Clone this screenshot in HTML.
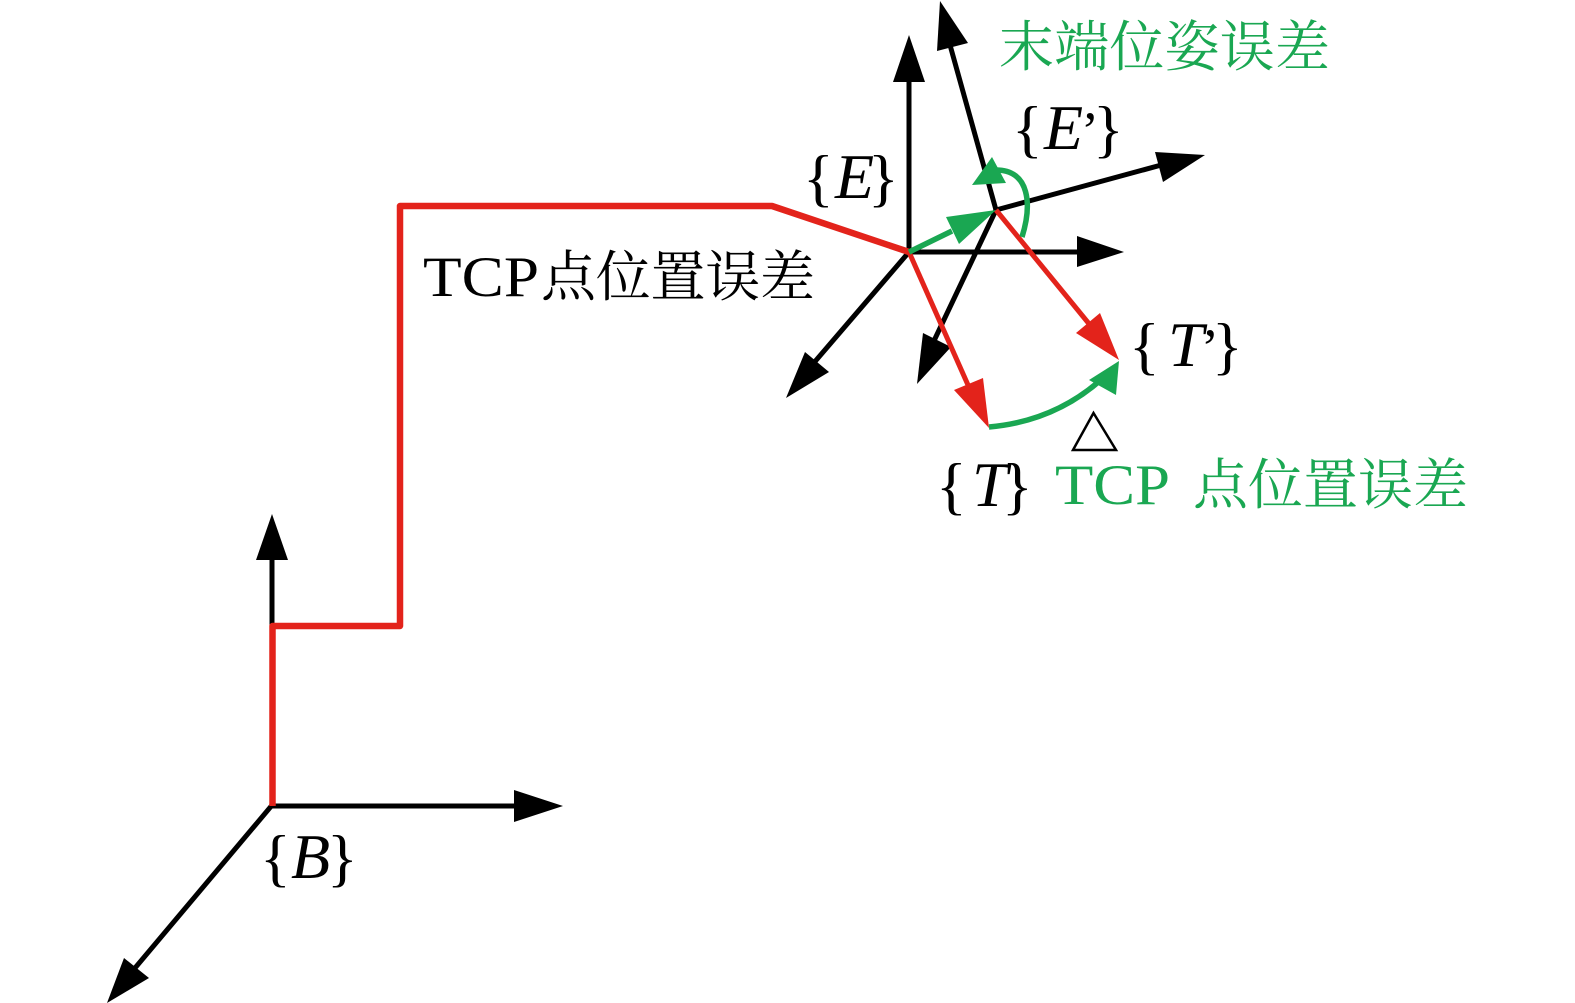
<!DOCTYPE html>
<html><head><meta charset="utf-8"><style>
html,body{margin:0;padding:0;background:#fff}
svg{display:block}
.m{font-family:"Liberation Serif",serif;fill:#000}
.i{font-style:italic;font-size:64px}
.b{font-size:64px}
.p{font-size:54px}
.c{font-family:"Liberation Serif","Noto Serif CJK SC",serif;font-size:55px}
.t{font-family:"Liberation Serif",serif;font-size:57px}
</style></head><body>
<svg width="1575" height="1003" viewBox="0 0 1575 1003" xmlns="http://www.w3.org/2000/svg">
<rect width="1575" height="1003" fill="#fff"/>
<!-- black axes -->
<g stroke="#000" stroke-width="5" fill="none">
<path d="M272 806V555"/><path d="M271 806H520"/><path d="M273 804L135 968"/>
<path d="M909 252V75"/><path d="M909 252H1085"/><path d="M909 252L812 365"/>
<path d="M996 210L950 45"/><path d="M996 210L1165 164"/><path d="M996 210L932 345"/>
</g>
<g fill="#000">
<path d="M272 514L288 560H256Z"/>
<path d="M563 806L514 790V822Z"/>
<path d="M107 1003L124 958L149 978Z"/>
<path d="M909 35L925 82H893Z"/>
<path d="M1124 252L1077 236V267Z"/>
<path d="M786 398L805 352L829 372Z"/>
<path d="M940 1L968 43L937 51Z"/>
<path d="M1205 155L1155 152L1163 182Z"/>
<path d="M917 384L923 333L951 347Z"/>
</g>
<!-- red -->
<path d="M272.500 806V626H400V206H772L909 252" fill="none" stroke="#e3231b" stroke-width="6.500" stroke-linejoin="round"/>
<g stroke="#e3231b" stroke-width="5" fill="none">
<path d="M909 252L968 385"/><path d="M996 210L1090 325"/>
</g>
<g fill="#e3231b">
<path d="M989 428L954 390L983 378Z"/>
<path d="M1119 360L1076 333L1100 313Z"/>
</g>
<!-- green -->
<g stroke="#1aa752" stroke-width="5.500" fill="none">
<path d="M909 252L952 231"/>
<path d="M1022 237C1032 205 1030 170 996 170"/>
<path d="M989 427C1035 423 1072 406 1103 378"/>
</g>
<g fill="#1aa752">
<path d="M996 210L946 217L959 244Z"/>
<path d="M992 157L972 185L1006 183Z"/>
<path d="M1119 361L1089 380L1116 395Z"/>
</g>
<!-- triangle -->
<path d="M1093.500 413L1116 450H1073Z" fill="none" stroke="#000" stroke-width="2.500"/>
<!-- labels -->
<text class="c" x="999" y="66" fill="#1aa752" textLength="331" lengthAdjust="spacing">末端位姿误差</text>
<text class="t" x="423" y="296" fill="#000" textLength="116" lengthAdjust="spacingAndGlyphs">TCP</text>
<text class="c" x="541" y="296" fill="#000" textLength="274" lengthAdjust="spacing">点位置误差</text>
<text class="t" x="1055" y="504" fill="#1aa752" textLength="115" lengthAdjust="spacingAndGlyphs">TCP</text>
<text class="c" x="1193" y="504" fill="#1aa752" textLength="275" lengthAdjust="spacing">点位置误差</text>

<text class="m b" x="803" y="199">{</text><text class="m i" x="835" y="198">E</text><text class="m b" x="868" y="199">}</text>
<text class="m b" x="1012" y="150">{</text><text class="m i" x="1044" y="149">E</text><text class="m p" x="1081" y="149">’</text><text class="m b" x="1093" y="150">}</text>
<text class="m b" x="1129" y="367">{</text><text class="m i" x="1168" y="366">T</text><text class="m p" x="1201" y="366">’</text><text class="m b" x="1212" y="367">}</text>
<text class="m b" x="936" y="507">{</text><text class="m i" x="972" y="506">T</text><text class="m b" x="1002" y="507">}</text>
<text class="m b" x="260" y="879">{</text><text class="m i" x="291" y="878">B</text><text class="m b" x="327" y="879">}</text>
</svg>
</body></html>
